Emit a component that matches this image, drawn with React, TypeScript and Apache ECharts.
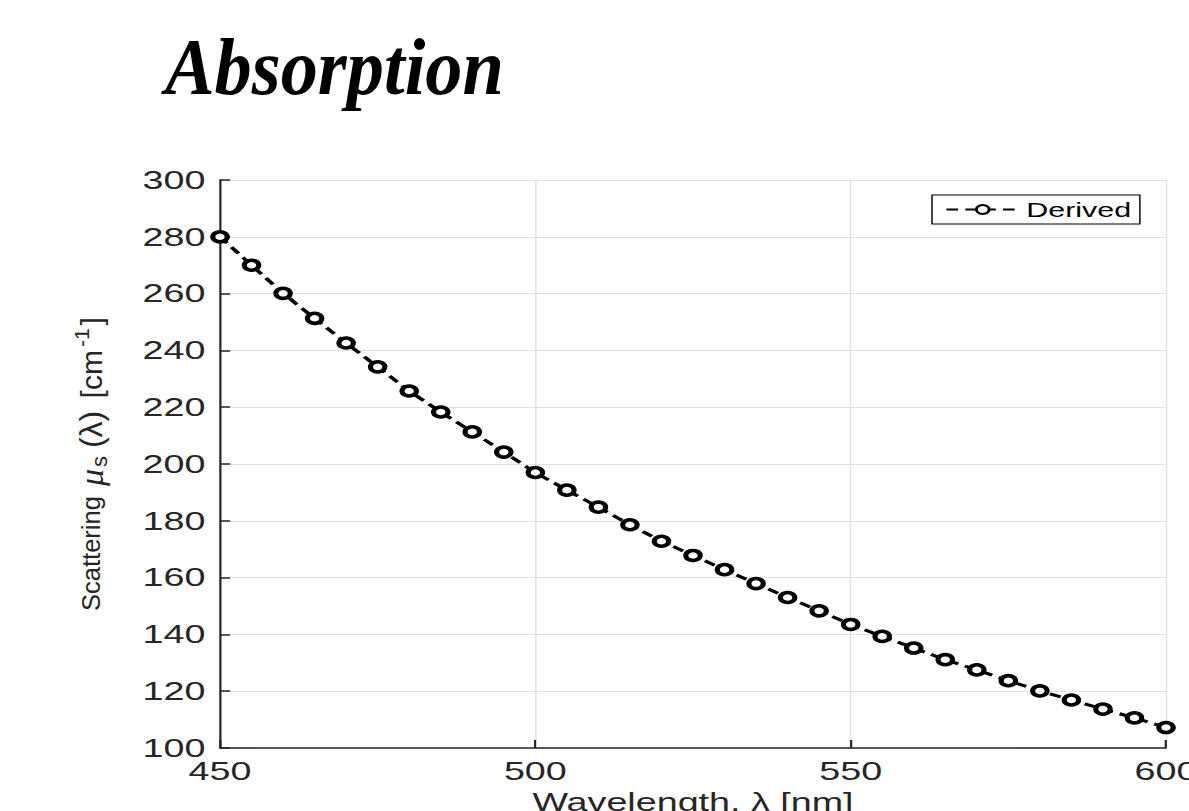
import React, { useEffect, useRef } from "react";
import * as echarts from "echarts";

// ---- data ----
const wavelengths = [
  450, 455, 460, 465, 470, 475, 480, 485, 490, 495, 500, 505, 510, 515, 520, 525,
  530, 535, 540, 545, 550, 555, 560, 565, 570, 575, 580, 585, 590, 595, 600,
];
const derived = [
  280.0, 270.0, 260.1, 251.3, 242.6, 234.2, 225.7, 218.3, 211.3, 204.2, 197.0,
  190.8, 184.8, 178.6, 172.8, 167.8, 162.8, 157.9, 153.0, 148.3, 143.5, 139.3,
  135.2, 131.1, 127.5, 123.7, 120.1, 116.9, 113.7, 110.6, 107.2,
];
const seriesName = "Derived";
const titleText = "Absorption";
const xAxisName = "Wavelength, λ [nm]";

// horizontal stretch of the reference figure
const S = 1.45;
const W = 1189 / S;
const H = 811;

export default function App() {
  const ref = useRef<HTMLDivElement>(null);
  useEffect(() => {
    if (!ref.current) return;
    const chart = echarts.init(ref.current, null, { renderer: "svg" });
    const axisColor = "#262626";
    const gridColor = "#e0e0e0";
    chart.setOption({
      animation: false,
      backgroundColor: "#fff",
      grid: {
        left: 220 / S,
        right: W - 1166 / S,
        top: 180,
        bottom: H - 748,
        containLabel: false,
        outerBoundsMode: "none",
      },
      xAxis: {
        type: "value",
        min: 450,
        max: 600,
        interval: 50,
        name: xAxisName,
        nameLocation: "middle",
        nameGap: 36,
        nameTextStyle: { fontSize: 26, color: axisColor, fontFamily: "Liberation Sans" },
        axisLine: { show: true, onZero: false, lineStyle: { color: axisColor, width: 1.5 } },
        axisTick: { show: true, inside: true, length: 8, lineStyle: { color: axisColor, width: 1.5 } },
        axisLabel: { fontSize: 26, color: axisColor, margin: 10, fontFamily: "Liberation Sans" },
        splitLine: { show: true, lineStyle: { color: gridColor, width: 1 } },
      },
      yAxis: {
        type: "value",
        min: 100,
        max: 300,
        interval: 20,
        axisLine: { show: true, lineStyle: { color: axisColor, width: 1.5 } },
        axisTick: { show: true, inside: true, length: 7, lineStyle: { color: axisColor, width: 1.5 } },
        axisLabel: { fontSize: 26, color: axisColor, margin: 10, fontFamily: "Liberation Sans" },
        splitLine: { show: true, lineStyle: { color: gridColor, width: 1 } },
      },
      legend: {
        data: [seriesName],
        left: 932 / S,
        top: 195,
        orient: "horizontal",
        itemWidth: 50,
        itemHeight: 11,
        itemGap: 5,
        padding: [4, 6, 4, 9],
        borderColor: "#000",
        borderWidth: 1,
        backgroundColor: "#fff",
        textStyle: { fontSize: 21, color: "#000", fontFamily: "Liberation Sans" },
      },
      series: [
        {
          name: seriesName,
          type: "line",
          data: wavelengths.map((x, i) => [x, derived[i]]),
          symbol: "circle",
          symbolSize: 10,
          showAllSymbol: true,
          lineStyle: { color: "#000", width: 3, type: [8, 5] },
          itemStyle: { color: "#fff", borderColor: "#000", borderWidth: 3.5 },
          emphasis: { disabled: true },
          z: 5,
        },
      ],
      graphic: [
        {
          type: "text",
          x: 165 / S,
          y: 67,
          scaleX: 0.93 / S,
          style: {
            text: titleText,
            fontFamily: "Liberation Serif",
            fontStyle: "italic",
            fontWeight: "bold",
            fontSize: 80,
            fill: "#000",
            align: "left",
            verticalAlign: "middle",
          },
        },
        {
          type: "text",
          x: 91 / S,
          y: 463.5,
          rotation: Math.PI / 2,
          scaleY: 1 / S,
          style: {
            text: "Scattering{mu|μ}{sub|s}{lam|(λ)}{br| [cm}{sup|-1}{br|]}",
            fontFamily: "Liberation Sans",
            fontSize: 25.5,
            fill: axisColor,
            align: "center",
            verticalAlign: "middle",
            rich: {
              mu: { fontSize: 34, fontStyle: "italic", fontFamily: "Liberation Serif", fill: axisColor, padding: [0, 2, 0, 10] },
              sub: { fontSize: 22, fontFamily: "Liberation Sans", fill: axisColor, padding: [16, 5, 0, 0] },
              lam: { fontSize: 32, fontFamily: "Liberation Sans", fill: axisColor, padding: [0, 3, 0, 3] },
              br: { fontSize: 30, fontFamily: "Liberation Sans", fill: axisColor, padding: [0, 1, 0, 1] },
              sup: { fontSize: 21, fontFamily: "Liberation Sans", fill: axisColor, padding: [0, 2, 18, 2] },
            },
          },
        },
      ],
    });
    return () => chart.dispose();
  }, []);
  return (
    <div
      style={{
        position: "fixed",
        left: 0,
        top: 0,
        width: 1189,
        height: 811,
        overflow: "hidden",
        background: "#fff",
      }}
    >
      <div
        ref={ref}
        style={{ width: W, height: H, transform: `scaleX(${S})`, transformOrigin: "0 0" }}
      />
    </div>
  );
}
